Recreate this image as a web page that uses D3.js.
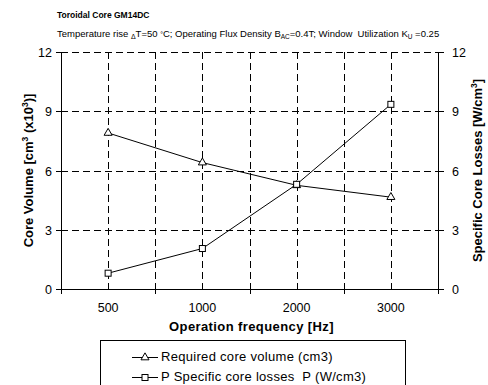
<!DOCTYPE html>
<meta charset="utf-8">
<style>
  body { margin: 0; background: #fff; }
  svg { font-family: "Liberation Sans", Arial, sans-serif; }
</style>
<svg width="488" height="385"></svg>
<script src="https://cdn.jsdelivr.net/npm/d3@7"></script>
<script>

var categories = ["500", "1000", "2000", "3000"];
var coreVolume = [7.9, 6.4, 5.25, 4.65];
var coreLosses = [0.8, 2.05, 5.3, 9.35];
var yTicks = [0, 3, 6, 9, 12];

var svg = d3.select("svg");

var pLeft = 61, pRight = 438, pTop = 52, pBottom = 289;

var x = d3.scaleBand().domain(categories).range([pLeft, pRight]).padding(0);
var y = d3.scaleLinear().domain([0, 12]).range([pBottom, pTop]);
var y2 = d3.scaleLinear().domain([0, 12]).range([pBottom, pTop]);

// titles
svg.append("text")
    .attr("x", 57).attr("y", 18)
    .attr("font-size", 8.5).attr("font-weight", "bold")
    .text("Toroidal Core GM14DC");

var sub = svg.append("text")
    .attr("x", 57).attr("y", 37)
    .attr("font-size", 9.5)
    .style("white-space", "pre");
sub.append("tspan").text("Temperature rise ");
sub.append("tspan").attr("font-size", 7).attr("dy", 1.5).text("\u0394");
sub.append("tspan").attr("dy", -1.5).text("T=50 ");
sub.append("tspan").attr("font-size", 7).text("\u00b0");
sub.append("tspan").text("C; Operating Flux Density B");
sub.append("tspan").attr("font-size", 6.5).attr("dy", 2).text("AC");
sub.append("tspan").attr("dy", -2).text("=0.4T; Window  Utilization K");
sub.append("tspan").attr("font-size", 6.5).attr("dy", 2).text("U");
sub.append("tspan").attr("dy", -2).text(" =0.25");

// grid
var grid = svg.append("g")
    .attr("stroke", "#000").attr("stroke-width", 1)
    .attr("stroke-dasharray", "7,4");

var vx = [];
categories.forEach(function(c, i) {
  vx.push(x(c) + x.bandwidth() / 2);
  if (i > 0) vx.push(x(c));
});

grid.selectAll("line.v").data(vx).enter().append("line")
    .attr("x1", function(d) { return Math.round(d) + 0.5; })
    .attr("x2", function(d) { return Math.round(d) + 0.5; })
    .attr("y1", pTop).attr("y2", pBottom);

grid.selectAll("line.h").data([3, 6, 9, 12]).enter().append("line")
    .attr("x1", pLeft).attr("x2", pRight)
    .attr("y1", function(d) { return Math.round(y(d)) + 0.5; })
    .attr("y2", function(d) { return Math.round(y(d)) + 0.5; });

// axes
var axes = svg.append("g").attr("stroke", "#000").attr("stroke-width", 1);
axes.append("line").attr("x1", pLeft + 0.5).attr("x2", pLeft + 0.5).attr("y1", pTop).attr("y2", pBottom);
axes.append("line").attr("x1", pRight + 0.5).attr("x2", pRight + 0.5).attr("y1", pTop).attr("y2", pBottom);
axes.append("line").attr("x1", pLeft).attr("x2", pRight + 1).attr("y1", pBottom + 0.5).attr("y2", pBottom + 0.5);

// y ticks
yTicks.forEach(function(t) {
  var yy = Math.round(y(t)) + 0.5;
  axes.append("line").attr("x1", pLeft - 5).attr("x2", pLeft).attr("y1", yy).attr("y2", yy);
  axes.append("line").attr("x1", pRight).attr("x2", pRight + 6).attr("y1", yy).attr("y2", yy);
});

// x ticks: crossing ticks at band edges, small ticks at centers
var edges = categories.map(function(c) { return x(c); }).concat([pRight]);
edges.forEach(function(e) {
  var xx = Math.round(e) + 0.5;
  axes.append("line").attr("x1", xx).attr("x2", xx).attr("y1", pBottom - 5).attr("y2", pBottom + 5);
});
categories.forEach(function(c) {
  var xx = Math.round(x(c) + x.bandwidth() / 2) + 0.5;
  axes.append("line").attr("x1", xx).attr("x2", xx).attr("y1", pBottom - 4).attr("y2", pBottom);
});

// tick labels
svg.append("g").selectAll("text").data(yTicks).enter().append("text")
    .attr("x", pLeft - 9).attr("y", function(d) { return y(d) + 5; })
    .attr("text-anchor", "end").attr("font-size", 12.5)
    .text(function(d) { return d; });

svg.append("g").selectAll("text").data(yTicks).enter().append("text")
    .attr("x", pRight + 14).attr("y", function(d) { return y2(d) + 5; })
    .attr("text-anchor", "start").attr("font-size", 12.5)
    .text(function(d) { return d; });

svg.append("g").selectAll("text").data(categories).enter().append("text")
    .attr("x", function(d) { return x(d) + x.bandwidth() / 2; })
    .attr("y", 312)
    .attr("text-anchor", "middle").attr("font-size", 12.5)
    .text(function(d) { return d; });

// axis titles
svg.append("text")
    .attr("x", (pLeft + pRight) / 2 + 2).attr("y", 331)
    .attr("text-anchor", "middle").attr("font-size", 13).attr("font-weight", "bold")
    .attr("letter-spacing", 0.4)
    .text("Operation frequency [Hz]");

var lt = svg.append("text")
    .attr("transform", "translate(33," + ((pTop + pBottom) / 2) + ") rotate(-90)")
    .attr("text-anchor", "middle").attr("font-size", 13).attr("font-weight", "bold");
lt.append("tspan").text("Core Volume [cm");
lt.append("tspan").attr("font-size", 8.5).attr("dy", -5).text("3");
lt.append("tspan").attr("dy", 5).text(" (x10");
lt.append("tspan").attr("font-size", 8.5).attr("dy", -5).text("3");
lt.append("tspan").attr("dy", 5).text(")]");

var rt = svg.append("text")
    .attr("transform", "translate(482," + ((pTop + pBottom) / 2) + ") rotate(-90)")
    .attr("text-anchor", "middle").attr("font-size", 13).attr("font-weight", "bold");
rt.append("tspan").text("Specific Core Losses [W/cm");
rt.append("tspan").attr("font-size", 8.5).attr("dy", -5).text("3");
rt.append("tspan").attr("dy", 5).text("]");

// series
var cx = function(d, i) { return x(categories[i]) + x.bandwidth() / 2; };
var line = d3.line().x(cx).y(function(d) { return y(d); });
var line2 = d3.line().x(cx).y(function(d) { return y2(d); });

svg.append("path").datum(coreVolume).attr("d", line)
    .attr("fill", "none").attr("stroke", "#000").attr("stroke-width", 1);
svg.append("path").datum(coreLosses).attr("d", line2)
    .attr("fill", "none").attr("stroke", "#000").attr("stroke-width", 1);

var tri = d3.symbol().type(d3.symbolTriangle).size(28);
svg.append("g").selectAll("path").data(coreVolume).enter().append("path")
    .attr("d", tri)
    .attr("transform", function(d, i) { return "translate(" + cx(d, i) + "," + y(d) + ")"; })
    .attr("fill", "#fff").attr("stroke", "#000").attr("stroke-width", 1);

svg.append("g").selectAll("rect").data(coreLosses).enter().append("rect")
    .attr("x", function(d, i) { return cx(d, i) - 3; })
    .attr("y", function(d) { return y2(d) - 3; })
    .attr("width", 6).attr("height", 6)
    .attr("fill", "#fff").attr("stroke", "#000").attr("stroke-width", 1);

// legend
var lg = svg.append("g");
lg.append("rect").attr("x", 100.5).attr("y", 340.5).attr("width", 305).attr("height", 60)
    .attr("fill", "#fff").attr("stroke", "#000").attr("stroke-width", 1);

var legendItems = [
  { label: "Required core volume (cm3)", mark: "tri", y: 357 },
  { label: "P Specific core losses  P (W/cm3)", mark: "sq", y: 377 }
];
legendItems.forEach(function(it) {
  lg.append("line").attr("x1", 132).attr("x2", 158).attr("y1", it.y + 0.5).attr("y2", it.y + 0.5)
      .attr("stroke", "#000");
  if (it.mark === "tri") {
    lg.append("path").attr("d", tri).attr("transform", "translate(145," + (it.y + 0.5) + ")")
        .attr("fill", "#fff").attr("stroke", "#000");
  } else {
    lg.append("rect").attr("x", 142).attr("y", it.y - 2.5).attr("width", 6).attr("height", 6)
        .attr("fill", "#fff").attr("stroke", "#000");
  }
  lg.append("text").attr("x", 161).attr("y", it.y + 4)
      .attr("font-size", 13).attr("letter-spacing", 0.3)
      .style("white-space", "pre").text(it.label);
});

</script>
